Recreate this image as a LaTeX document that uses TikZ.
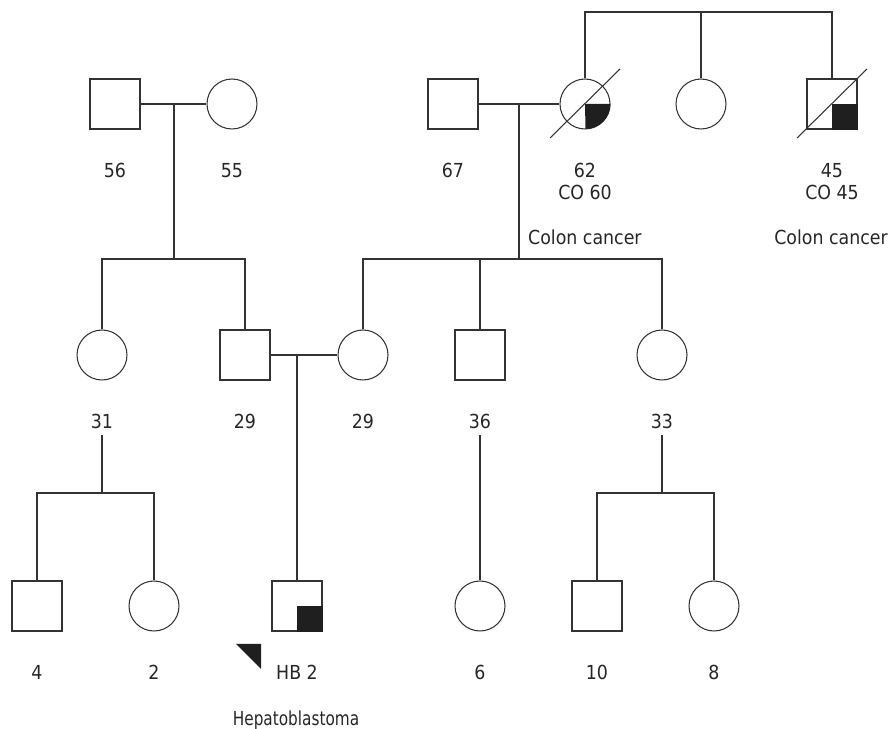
\documentclass[tikz,border=0pt]{standalone}
\usepackage{fontspec}
\setmainfont{DejaVu Sans Condensed}
\usepackage{tikz}
\tikzset{
    male/.style={draw=black!80,line width=0.6pt,minimum size=1cm,inner sep=0pt},
    female/.style={male,circle},
    age/.style={anchor=base,text=black!85,font=\fontsize{11}{13}\selectfont},
    line/.style={draw=black!80,line width=0.6pt},
    affected/.style={fill=black!88},
}

\begin{document}
\begin{tikzpicture}[x=0.02cm,y=-0.02cm]
    \useasboundingbox (0,0) rectangle (894,729);
    % first generation
    \node[male]   (m56) at (115,104) {};
    \node[female] (f55) at (232,104) {};
    \node[male]   (m67) at (453,104) {};
    \node[female] (f62) at (585,104) {};
    \node[female] (fsis) at (701,104) {};
    \node[male]   (m45) at (832,104) {};
    \node[age] (l56) at (115,178) {56};
    \node[age] (l55) at (232,178) {55};
    \node[age] (l67) at (453,178) {67};
    \node[age] (l62) at (585,178) {62};
    \node[age] (co62) at (585,200) {CO 60};
    \node[age] (l45) at (832,178) {45};
    \node[age] (co45) at (832,200) {CO 45};
    \node[age,anchor=base west] (cc62) at (522,245) {Colon cancer};
    \node[age] (cc45) at (831,245) {Colon cancer};
    % second generation
    \node[female] (f31) at (102,355) {};
    \node[male]   (m29) at (245,355) {};
    \node[female] (f29) at (363,355) {};
    \node[male]   (m36) at (480,355) {};
    \node[female] (f33) at (662,355) {};
    \node[age] (l31) at (102,429) {31};
    \node[age] (l29a) at (245,429) {29};
    \node[age] (l29b) at (363,429) {29};
    \node[age] (l36) at (480,429) {36};
    \node[age] (l33) at (662,429) {33};
    % third generation
    \node[male]   (m4)   at (37,606) {};
    \node[female] (f2)   at (154,606) {};
    \node[male]   (prob) at (297,606) {};
    \node[female] (f6)   at (480,606) {};
    \node[male]   (m10)  at (597,606) {};
    \node[female] (f8)   at (714,606) {};
    \node[age] (l4) at (37,680) {4};
    \node[age] (l2) at (154,680) {2};
    \node[age] (lprob) at (297,680) {HB 2};
    \node[age] (l6) at (480,680) {6};
    \node[age] (l10) at (597,680) {10};
    \node[age] (l8) at (714,680) {8};
    \node[age] (hb) at (296,726) {\scalebox{0.88}[1]{Hepatoblastoma}};

    \coordinate (top) at (701,12);
    \coordinate (u1) at (174,104);
    \coordinate (s1) at (174,259);
    \coordinate (u2) at (519,104);
    \coordinate (s2) at (519,259);
    \coordinate (u3) at (297,355);
    \coordinate (s3) at (102,493);
    \coordinate (s4) at (662,493);

    % lines
    \path[line] (f62) |- (top) -| (m45);
    \path[line] (fsis) -- (top);
    \path[line] (m56) -- (f55);
    \path[line] (u1) -- (s1);
    \path[line] (f31) |- (s1) -| (m29);
    \path[line] (m67) -- (f62);
    \path[line] (u2) -- (s2);
    \path[line] (f29) |- (s2) -| (f33);
    \path[line] (m36) -- (m36 |- s2);
    \path[line] (m29) -- (f29);
    \path[line] (u3) -- (prob);
    \path[line] (l31.south) -- (s3);
    \path[line] (m4) |- (s3) -| (f2);
    \path[line] (l36.south) -- (f6);
    \path[line] (l33.south) -- (s4);
    \path[line] (m10) |- (s4) -| (f8);

    % affected quarters and deceased
    \fill[affected] (f62.center) -- (f62.east) arc[start angle=0,end angle=-90,radius=0.5cm] -- cycle;
    \fill[affected] (m45.center) rectangle (m45.south east);
    \fill[affected] (prob.center) rectangle (prob.south east);
    \path[line] (f62.center) ++(-35,34) -- ++(70,-69);
    \path[line] (m45.center) ++(-35,34) -- ++(70,-69);
    \fill[affected] (prob.center) ++(-61,38) -- ++(25,0) -- ++(0,25) -- cycle;
\end{tikzpicture}
\end{document}
